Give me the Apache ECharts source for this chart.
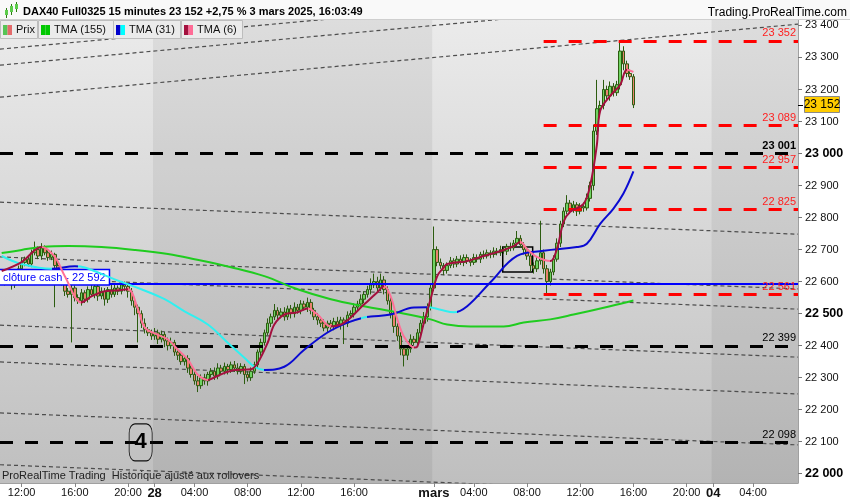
<!DOCTYPE html>
<html><head><meta charset="utf-8">
<script src="https://cdn.jsdelivr.net/npm/echarts@6/dist/echarts.min.js"></script>
<style>html,body{margin:0;padding:0;background:#fff}#c{width:850px;height:500px}</style>
</head><body><div id="c"></div>
<script>
// ---------------- DATA ----------------
const sessions = [
  {key:'27', label:'27', start:'10:30', end:'21:45'},
  {key:'28', label:'28', start:'01:00', end:'21:45'},
  {key:'03', label:'mars', start:'01:00', end:'21:45'},
  {key:'04', label:'04', start:'01:00', end:'07:15'}
];
const shownHours = ['04:00','08:00','12:00','16:00','20:00'];
const hiddenLabels = ['28 20:00'];
const yTicks = [22000,22100,22200,22300,22400,22500,22600,22700,22800,22900,23000,23100,23200,23300,23400];

const firstOpen = 22630;
const close27 = [22615,22600,22620,22590,22610,22640,22660,22670,22655,22690,
 22700,22680,22705,22690,22675,22685,22650,22620,22600,22570,
 22560,22580,22550,22540,22565,22545,22575,22560,22585,22555,
 22570,22545,22575,22560,22580,22570,22590,22585,22570,22540,
 22520,22500,22470,22450,22440,22430];
const close28 = [22440,22420,22435,22415,22400,22410,22380,22370,22350,22360,
 22330,22310,22290,22275,22300,22290,22310,22320,22305,22330,
 22320,22335,22325,22340,22330,22320,22335,22310,22300,22320,
 22340,22380,22410,22440,22470,22490,22510,22495,22505,22490,
 22515,22500,22520,22510,22530,22520,22535,22510,22490,22480,
 22470,22455,22470,22460,22475,22465,22480,22470,22495,22500,
 22520,22530,22545,22560,22575,22590,22600,22580,22605,22575,
 22540,22500,22460,22430,22390,22370,22390,22420,22410,22440,
 22470,22490,22520,22580];
const close03 = [22700,22660,22650,22635,22650,22665,22655,22670,22660,22675,
 22665,22660,22675,22670,22685,22680,22690,22685,22695,22690,
 22700,22695,22710,22705,22720,22735,22715,22700,22680,22650,
 22640,22665,22690,22640,22600,22630,22670,22720,22780,22820,
 22845,22825,22840,22820,22835,22830,22860,22900,23070,23140,
 23150,23200,23180,23210,23190,23215,23320,23280,23250,23240,
 23152];
const upWick27 = [8,10,6,12,8,10,15,8,12,10, 25,10,15,8,10,12,5,10,8,12, 10,15,8,10,12,8,10,15,10,8, 12,10,8,15,10,8,12,10,8,10, 12,8,10,15,8,10];
const loWick27 = [10,12,8,15,10,8,10,12,8,10, 8,10,12,8,10,8,130,10,12,15, 10,150,12,10,15,12,10,8,12,15, 10,20,12,10,8,12,10,15,20,15, 25,90,15,12,10,12];
const upWick28 = [15,10,12,8,10,15,8,10,12,10, 10,8,12,15,10,12,8,10,12,15, 10,12,8,10,12,15,10,8,10,12, 10,8,12,10,15,10,20,10,12,15,
 10,12,15,10,12,10,15,10,8,12, 10,12,8,10,12,15,10,8,12,10, 12,10,15,10,12,20,25,15,20,12, 10,15,8,10,12,10,8,15,10,12, 10,15,12,15];
const loWick28 = [12,15,10,20,15,10,12,15,10,12, 15,10,12,20,10,12,15,10,12,10, 12,10,15,10,12,10,8,30,12,10, 8,10,12,10,8,12,10,15,10,12,
 10,15,12,10,12,10,15,12,10,15, 12,10,15,10,12,10,15,65,12,10, 12,10,8,12,10,15,10,12,10,15, 12,15,20,15,20,35,15,12,10,12, 10,12,15,10];
const upWick03 = [72,10,12,8,10,12,8,10,12,10, 10,8,12,10,8,12,10,8,12,10, 12,10,8,12,10,23,10,8,10,12, 10,12,100,10,12,10,12,15,10,12,
 25,10,12,8,10,12,15,12,20,90, 15,30,12,15,10,12,32,15,10,12, 8];
const loWick03 = [10,12,10,15,10,8,12,10,8,12, 10,12,8,10,12,10,8,12,10,8, 10,8,12,10,8,12,10,15,12,20, 15,10,12,15,40,12,10,8,12,10,
 10,12,10,15,10,12,8,10,15,12, 15,12,10,15,12,10,15,20,12,10, 10];

const tma155 = [[0,22689],[6,22699],[12,22708],[20,22711],[30,22708],[40,22699],[50,22686],[58,22670],[69,22645],[79,22617],[89,22576],[99,22545],[109,22523],[119,22504],[129,22482],[134,22466],[141,22460],[151,22460],[157,22472],[165,22482],[172,22497],[183,22523],[190,22541]];
const tma31 = [[0,22680],[6,22655],[15,22640],[22,22648],[25,22644],[34,22607],[42,22576],[49,22545],[55,22507],[62,22466],[68,22409],[73,22362],[76,22334],[79,22324],[85,22334],[91,22387],[98,22441],[104,22472],[109,22488],[111,22491],[117,22497],[124,22519],[128,22520],[132,22512],[136,22504],[140,22523],[147,22598],[155,22680],[163,22696],[173,22708],[176,22718],[180,22780],[184,22828],[187,22875],[190,22944]];
const tma6 = [[0,22633],[6,22661],[12,22708],[16,22677],[19,22617],[24,22535],[27,22554],[31,22570],[34,22572],[38,22576],[41,22513],[43,22457],[46,22438],[50,22419],[53,22387],[56,22356],[59,22309],[62,22293],[65,22306],[70,22324],[75,22326],[77,22346],[80,22409],[82,22466],[85,22497],[89,22504],[92,22516],[95,22497],[99,22460],[102,22466],[105,22488],[108,22519],[110,22538],[113,22567],[115,22586],[117,22554],[119,22482],[121,22428],[124,22394],[125,22397],[127,22472],[129,22545],[131,22617],[133,22645],[134,22655],[140,22664],[144,22677],[149,22692],[154,22711],[156,22724],[158,22702],[161,22677],[165,22664],[167,22702],[169,22787],[171,22818],[175,22843],[177,22900],[179,23026],[180,23133],[183,23180],[186,23214],[188,23262],[190,23255]];
const tma31Falling = [[-1,15],[23,79],[108,110],[128,137]];
const tma6Falling = [[12,24],[38,62],[92,99],[115,124],[156,165],[188,191]];

const trendLines = [[22848,22748],[22677,22577],[22614,22514],[22464,22364],[22349,22249],[22190,22090],[22028,21928],[23326,23554],[23276,23504],[23176,23404]];
const blackLevels = [23001,22399,22098];
const redLevels = [23352,23089,22957,22825,22561];
const redStart = 163;
const cashClose = 22592;
const lastPrice = 23152;
const boxArea = [[150.7,22708],[159.7,22630]];
const noteMark = [41.8,22098];

// ---------------- BUILD ----------------
const pad = n => (n<10?'0':'')+n;
const fmt = n => String(n).replace(/\B(?=(\d{3})+(?!\d))/g,' ');
const cats = [], catInfo = {};
sessions.forEach((s,si)=>{
  let [h,m] = s.start.split(':').map(Number);
  const [eh,em] = s.end.split(':').map(Number);
  let first = true;
  while (h*60+m <= eh*60+em) {
    const t = pad(h)+':'+pad(m), k = s.key+' '+t;
    cats.push(k);
    catInfo[k] = {t, first: first && si>0, day: s.label, key: s.key};
    first = false; m += 15; if (m>=60){m-=60;h++;}
  }
});
const N = cats.length;
const showLabel = k => { const c = catInfo[k]; if (!c) return false; if (c.first) return true; return shownHours.includes(c.t) && !hiddenLabels.includes(k); };
const dayBounds = [];
sessions.forEach(s=>{ const idx = cats.findIndex(k=>catInfo[k].key===s.key); let last=-1; cats.forEach((k,i)=>{if(catInfo[k].key===s.key) last=i;}); dayBounds.push([idx-0.5,last+0.5]); });
const darkBands = dayBounds.filter((b,i)=>i%2===1);

const closes = close27.concat(close28, close03);
const upW = upWick27.concat(upWick28, upWick03);
const loW = loWick27.concat(loWick28, loWick03);
const candles = closes.map((c,i)=>{ const o = i===0?firstOpen:closes[i-1]; return [o,c,Math.min(o,c)-loW[i],Math.max(o,c)+upW[i]]; });

const FONT = 'Liberation Sans, Arial, sans-serif';
const CYAN='#2ff0f0', BLUE='#0a0ad2', PINK='#ff7096', MAROON='#a3103e';
function pieces(falling, fc, rc){
  const p=[]; let prev=-Infinity;
  falling.forEach(([a,b])=>{ if(a>prev) p.push({gte:prev===-Infinity?-1000:prev, lt:a, color:rc}); p.push({gte:a, lt:b, color:fc}); prev=b; });
  p.push({gte:prev, lte:1000, color:rc});
  return p;
}

const series = [];
series.push({type:'line', xAxisIndex:1, data:[], silent:true, z:0,
  markArea:{silent:true, itemStyle:{color:'rgba(0,0,0,0.06)'}, data: darkBands.map(b=>[{xAxis:b[0]},{xAxis:b[1]}])}});
trendLines.forEach(t=>series.push({type:'line', xAxisIndex:1, data:[[-0.5,t[0]],[N-0.5,t[1]]], showSymbol:false, silent:true, clip:true, lineStyle:{color:'#4d4d4d', width:1.2, type:[4,3]}, z:3}));
series.push({type:'candlestick', xAxisIndex:0, data:candles, barWidth:3, silent:true,
  itemStyle:{color:'#6fd462', color0:'#ea836f', borderColor:'#2c5c10', borderColor0:'#2c5c10', borderWidth:1}, z:4});
const lvl = [];
blackLevels.forEach(v=>lvl.push({yAxis:v, lineStyle:{color:'#000', width:3, type:[13,12]}, label:{formatter:fmt(v), color:'#000', fontWeight: v===23001?'bold':'normal'}}));
redLevels.forEach(v=>lvl.push([{coord:[redStart,v], lineStyle:{color:'#ff0000', width:3, type:[13,12]}, label:{formatter:fmt(v), color:'#ff2020'}},{coord:[N-0.5,v]}]));
lvl.push({yAxis:cashClose, lineStyle:{color:'#0000ff', width:2, type:'solid'}, label:{position:'insideStartTop', distance:[0,0], formatter:'clôture cash - '+fmt(cashClose), color:'#0000ff', backgroundColor:'#fff', borderColor:'#0000ff', borderWidth:1.5, padding:[2,3,1,3], fontSize:11}});
series.push({type:'line', xAxisIndex:1, data:[], silent:true, z:5,
  markLine:{silent:true, symbol:['none','none'], animation:false, label:{position:'insideEndTop', distance:2, fontSize:11, fontFamily:FONT}, data:lvl}});
const sTma155 = series.length;
series.push({type:'line', xAxisIndex:1, data:tma155, smooth:0.4, showSymbol:false, silent:true, lineStyle:{color:'#1fcc1f', width:2}, z:6});
const sTma31 = series.length;
series.push({type:'line', xAxisIndex:1, data:tma31, smooth:0.4, showSymbol:false, silent:true, lineStyle:{width:2}, z:6});
const sTma6 = series.length;
series.push({type:'line', xAxisIndex:1, data:tma6, smooth:0.35, showSymbol:false, silent:true, lineStyle:{width:2}, z:7});
series.push({type:'line', xAxisIndex:1, data:[], silent:true, z:8,
  markPoint:{silent:true, symbol:'roundRect', symbolSize:[23,37], itemStyle:{color:'rgba(0,0,0,0)', borderColor:'#111', borderWidth:1},
    label:{show:true, position:'inside', formatter:'4', fontSize:22, fontWeight:'bold', color:'#000', fontFamily:FONT}, data:[{coord:noteMark}]},
  markArea:{silent:true, itemStyle:{color:'rgba(0,0,0,0)', borderColor:'#000', borderWidth:1.5}, data:[[{coord:boxArea[0]},{coord:boxArea[1]}]]}});

const legendItems = [
  {x:0, w:37, text:'Prix', c1:'#55c455', c2:'#e36a6a'},
  {x:38, w:75, text:'TMA (155)', c1:'#00c800', c2:'#00c800'},
  {x:113, w:67, text:'TMA (31)', c1:'#0000cc', c2:'#00ffff'},
  {x:181, w:61, text:'TMA (6)', c1:'#a3103e', c2:'#ff6b96'}
];
const graphics = [
  {type:'rect', shape:{x:0,y:0,width:850,height:20}, style:{fill:'#f9f9f9'}, z:100},
  {type:'line', shape:{x1:0,y1:19.5,x2:850,y2:19.5}, style:{stroke:'#cfcfcf', lineWidth:1}, z:100},
  {type:'line', shape:{x1:6.5,y1:8,x2:6.5,y2:18}, style:{stroke:'#2c7a10'}, z:101},
  {type:'rect', shape:{x:5,y:10,width:3,height:5}, style:{fill:'#5ccc4a'}, z:101},
  {type:'line', shape:{x1:11.5,y1:4,x2:11.5,y2:15}, style:{stroke:'#2c7a10'}, z:101},
  {type:'rect', shape:{x:10,y:6,width:3,height:6}, style:{fill:'#5ccc4a'}, z:101},
  {type:'line', shape:{x1:16.5,y1:2,x2:16.5,y2:12}, style:{stroke:'#2c7a10'}, z:101},
  {type:'rect', shape:{x:15,y:4,width:3,height:5}, style:{fill:'#5ccc4a'}, z:101},
  {type:'text', x:23, y:12, style:{text:'DAX40 Full0325 15 minutes 23 152 +2,75 % 3 mars 2025, 16:03:49', font:'bold 11px '+FONT, fill:'#000', textVerticalAlign:'middle'}, z:101},
  {type:'text', x:847, y:12.5, style:{text:'Trading.ProRealTime.com', font:'12px '+FONT, fill:'#000', textAlign:'right', textVerticalAlign:'middle'}, z:101},
  {type:'text', x:2, y:476, style:{text:'ProRealTime Trading  Historique ajusté aux rollovers', font:'11px '+FONT, fill:'#222', textVerticalAlign:'middle'}, z:101}
];
legendItems.forEach(l=>{
  graphics.push({type:'rect', shape:{x:l.x+0.5,y:20.5,width:l.w,height:18}, style:{fill:'#ebebeb', stroke:'#bdbdbd', lineWidth:1}, z:100});
  graphics.push({type:'rect', shape:{x:l.x+3,y:25,width:4.5,height:10}, style:{fill:l.c1}, z:101});
  graphics.push({type:'rect', shape:{x:l.x+7.5,y:25,width:4.5,height:10}, style:{fill:l.c2}, z:101});
  graphics.push({type:'text', x:l.x+16, y:30, style:{text:l.text, font:'11px '+FONT, fill:'#111', textVerticalAlign:'middle'}, z:101});
});

const option = {
  animation:false,
  backgroundColor:'#fff',
  textStyle:{fontFamily:FONT},
  grid:{left:0, right:52, top:20, bottom:17, show:true, borderWidth:0,
    backgroundColor: new echarts.graphic.LinearGradient(0,0,0,1,[{offset:0,color:'#ebebeb'},{offset:1,color:'#bfbfbf'}])},
  xAxis:[
    {type:'category', data:cats, boundaryGap:true,
      axisLine:{show:true, onZero:false, lineStyle:{color:'#a0a0a0'}},
      axisTick:{show:true, alignWithLabel:true, length:4, interval:(i,v)=>showLabel(v), lineStyle:{color:'#888'}},
      axisLabel:{interval:(i,v)=>showLabel(v), margin:4, fontSize:11, color:'#111',
        formatter:(v)=>{const c=catInfo[v]; return c.first?'{d|'+c.day+'}':c.t;},
        rich:{d:{fontWeight:'bold', fontSize:13, color:'#111'}}},
      splitLine:{show:false}},
    {type:'value', min:-0.5, max:N-0.5, show:false, splitLine:{show:false}, axisLine:{onZero:false}}
  ],
  yAxis:[{type:'value', position:'right', min:21971, max:23417, scale:true,
    splitLine:{show:false},
    axisLine:{show:true, onZero:false, lineStyle:{color:'#a0a0a0'}},
    axisTick:{show:true, length:4, customValues:yTicks, lineStyle:{color:'#777'}},
    axisLabel:{customValues:yTicks, margin:7, fontSize:11, color:'#111',
      formatter:v=>(v%500===0?'{b|'+fmt(v)+'}':fmt(v)),
      rich:{b:{fontWeight:'bold', fontSize:12.5, color:'#000'}}}}],
  visualMap:[
    {type:'piecewise', show:false, seriesIndex:sTma31, dimension:0, pieces:pieces(tma31Falling, CYAN, BLUE)},
    {type:'piecewise', show:false, seriesIndex:sTma6, dimension:0, pieces:pieces(tma6Falling, PINK, MAROON)}
  ],
  graphic:graphics,
  series:series
};
const chart = echarts.init(document.getElementById('c'));
chart.setOption(option);
// current price tag on the price axis, placed through the axis scale
const py = chart.convertToPixel({yAxisIndex:0}, lastPrice);
const gx = chart.convertToPixel({xAxisIndex:1}, N-0.5);
chart.setOption({graphic: graphics.concat([
  {type:'line', shape:{x1:gx, y1:Math.round(py)+0.5, x2:gx+5, y2:Math.round(py)+0.5}, style:{stroke:'#000', lineWidth:1}, z:102},
  {type:'rect', shape:{x:gx+6.5, y:Math.round(py)-8.5, width:35, height:16}, style:{fill:'#ffcc00', stroke:'#8a8a8a', lineWidth:1}, z:102},
  {type:'text', x:gx+24, y:Math.round(py), style:{text:fmt(lastPrice), font:'12px '+FONT, fill:'#000', textAlign:'center', textVerticalAlign:'middle'}, z:103}
])});
</script></body></html>
